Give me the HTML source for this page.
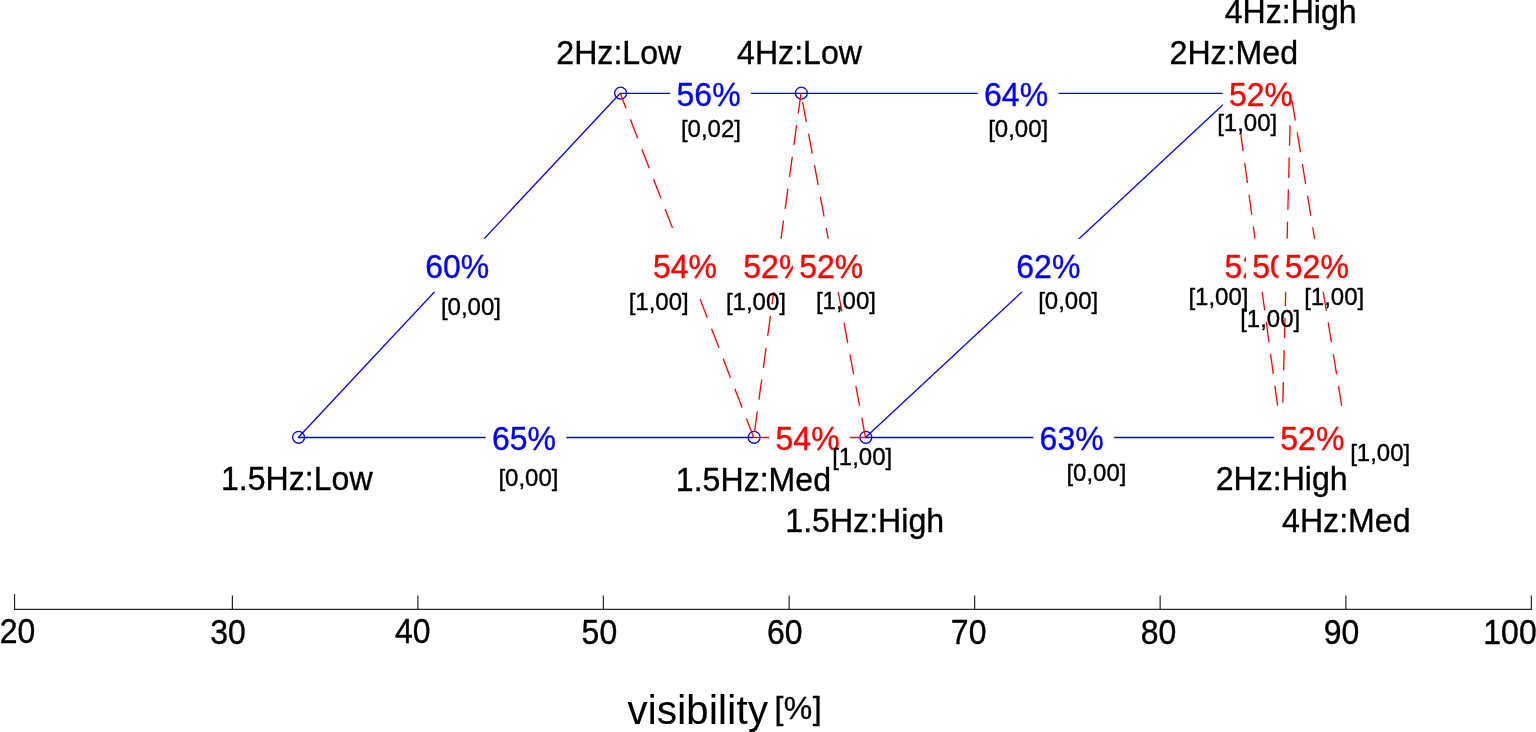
<!DOCTYPE html>
<html lang="en"><head><meta charset="utf-8"><title>visibility [%]</title>
<style>
html,body{margin:0;padding:0;background:#fff;}
body{width:1536px;height:732px;overflow:hidden;}
svg{display:block;font-family:"Liberation Sans",Arial,Helvetica,sans-serif;}
.ln{fill:none;stroke-width:1.3;stroke-linecap:butt;}
.b{stroke:#0000ff;}.r{stroke:#ff0000;stroke-dasharray:20.3 11.8;}
.bx{fill:#fff;stroke:none;}
text{stroke-width:0.35px;stroke-linejoin:round;}
.pc{font-size:32px;}
.sm{font-size:24px;fill:#000;stroke:#000;stroke-width:0.32px;}
.nd{font-size:32.1px;fill:#000;stroke:#000;text-anchor:middle;}
.tk{font-size:32px;fill:#000;stroke:#000;}
.ax{stroke:#262626;stroke-width:1.2;fill:none;}
.mk{fill:none;stroke:#0000ff;stroke-width:1.3;}
</style></head><body>
<svg width="1536" height="732" viewBox="0 0 1536 732" role="img" aria-label="visibility graph">
<rect x="0" y="0" width="1536" height="732" fill="#fff"/>
<g class="ax">
<path d="M13.95 609.4 H1532"/>
<path d="M14.55 609.4 V594"/>
<path d="M232.4 609.4 V595.6"/>
<path d="M417.9 609.4 V595.6"/>
<path d="M603.4 609.4 V595.6"/>
<path d="M789.15 609.4 V595.6"/>
<path d="M974.65 609.4 V595.6"/>
<path d="M1160.15 609.4 V595.6"/>
<path d="M1345.9 609.4 V595.6"/>
<path d="M1531.4 609.4 V595.6"/>
</g>
<g class="tk">
<text transform="translate(-0.2 643.2) scale(1 1.07)">20</text>
<text transform="translate(210.25 644.1) scale(1 1.07)">30</text>
<text transform="translate(394.9 643.2) scale(1 1.07)">40</text>
<text transform="translate(581.6 644.1) scale(1 1.07)">50</text>
<text transform="translate(767 644.1) scale(1 1.07)">60</text>
<text transform="translate(950.85 643.8) scale(1 1.07)">70</text>
<text transform="translate(1140.7 644.1) scale(1 1.07)">80</text>
<text transform="translate(1323.8 644.1) scale(1 1.07)">90</text>
<text transform="translate(1483.3 644.1) scale(1 1.07)">100</text>
</g>
<text x="627.4" y="723.6" font-size="40px" letter-spacing="0.3" fill="#000" stroke="#000" style="stroke-width:0.12px">visibility</text>
<text x="774.4" y="719.2" font-size="32px" letter-spacing="0.5" fill="#000" stroke="#000">[%]</text>
<g class="mk">
<circle cx="298.6" cy="437.3" r="5.95"/>
<circle cx="620.6" cy="93.1" r="5.95"/>
<circle cx="754.1" cy="437.3" r="5.95"/>
<circle cx="801.35" cy="93.1" r="5.95"/>
<circle cx="865.85" cy="437.3" r="5.95"/>
<circle cx="1235.65" cy="93.1" r="5.95"/>
<circle cx="1282.25" cy="437.3" r="5.95"/>
<circle cx="1291.25" cy="93.1" r="5.95"/>
<circle cx="1347.25" cy="437.3" r="5.95"/>
</g>
<g>
<path class="ln b" d="M620.25 93.3 L298.25 437.5"/>
<rect class="bx" x="418.88" y="238.8" width="80.75" height="53"/>
<text class="pc" transform="translate(425.18 278) scale(1 1.06)" fill="#0000ff" stroke="#0000ff">60%</text>
</g>
<g>
<path class="ln b" d="M753.75 437.5 L298.25 437.5"/>
<rect class="bx" x="485.62" y="410.9" width="80.75" height="53"/>
<text class="pc" transform="translate(491.93 450.1) scale(1 1.06)" fill="#0000ff" stroke="#0000ff">65%</text>
</g>
<g>
<path class="ln b" d="M801 93.3 L620.25 93.3"/>
<rect class="bx" x="670.25" y="66.7" width="80.75" height="53"/>
<text class="pc" transform="translate(676.55 105.9) scale(1 1.06)" fill="#0000ff" stroke="#0000ff">56%</text>
</g>
<g>
<path class="ln b" d="M1235.3 93.3 L801 93.3"/>
<rect class="bx" x="977.77" y="66.7" width="80.75" height="53"/>
<text class="pc" transform="translate(984.07 105.9) scale(1 1.06)" fill="#0000ff" stroke="#0000ff">64%</text>
</g>
<g>
<path class="ln b" d="M1235.3 93.3 L865.5 437.5"/>
<rect class="bx" x="1010.03" y="238.8" width="80.75" height="53"/>
<text class="pc" transform="translate(1016.33 278) scale(1 1.06)" fill="#0000ff" stroke="#0000ff">62%</text>
</g>
<g>
<path class="ln b" d="M1281.9 437.5 L865.5 437.5"/>
<rect class="bx" x="1033.33" y="410.9" width="80.75" height="53"/>
<text class="pc" transform="translate(1039.62 450.1) scale(1 1.06)" fill="#0000ff" stroke="#0000ff">63%</text>
</g>
<g>
<path class="ln r" d="M753.75 437.5 L620.25 93.3"/>
<rect class="bx" x="646.62" y="238.8" width="80.75" height="53"/>
<text class="pc" transform="translate(652.92 278) scale(1 1.06)" fill="#ff0000" stroke="#ff0000">54%</text>
</g>
<g>
<path class="ln r" d="M801 93.3 L753.75 437.5"/>
<rect class="bx" x="737" y="238.8" width="80.75" height="53"/>
<text class="pc" transform="translate(743.3 278) scale(1 1.06)" fill="#ff0000" stroke="#ff0000">52%</text>
</g>
<g>
<path class="ln r" d="M865.5 437.5 L753.75 437.5"/>
<rect class="bx" x="769.25" y="410.9" width="80.75" height="53"/>
<text class="pc" transform="translate(775.55 450.1) scale(1 1.06)" fill="#ff0000" stroke="#ff0000">54%</text>
</g>
<g>
<path class="ln r" d="M865.5 437.5 L801 93.3"/>
<rect class="bx" x="792.88" y="238.8" width="80.75" height="53"/>
<text class="pc" transform="translate(799.17 278) scale(1 1.06)" fill="#ff0000" stroke="#ff0000">52%</text>
</g>
<g>
<path class="ln r" d="M1281.9 437.5 L1235.3 93.3"/>
<rect class="bx" x="1218.22" y="238.8" width="80.75" height="53"/>
<text class="pc" transform="translate(1224.52 278) scale(1 1.06)" fill="#ff0000" stroke="#ff0000">52%</text>
</g>
<g>
<path class="ln r" d="M1290.9 93.3 L1281.9 437.5"/>
<rect class="bx" x="1246.03" y="238.8" width="80.75" height="53"/>
<text class="pc" transform="translate(1252.33 278) scale(1 1.06)" fill="#ff0000" stroke="#ff0000">50%</text>
</g>
<g>
<path class="ln r" d="M1290.9 93.3 L1235.3 93.3"/>
<rect class="bx" x="1222.72" y="66.7" width="80.75" height="53"/>
<text class="pc" transform="translate(1229.02 105.9) scale(1 1.06)" fill="#ff0000" stroke="#ff0000">52%</text>
</g>
<g>
<path class="ln r" d="M1346.9 437.5 L1290.9 93.3"/>
<rect class="bx" x="1278.53" y="238.8" width="80.75" height="53"/>
<text class="pc" transform="translate(1284.83 278) scale(1 1.06)" fill="#ff0000" stroke="#ff0000">52%</text>
</g>
<g>
<path class="ln r" d="M1346.9 437.5 L1281.9 437.5"/>
<rect class="bx" x="1274.03" y="410.9" width="80.75" height="53"/>
<text class="pc" transform="translate(1280.33 450.1) scale(1 1.06)" fill="#ff0000" stroke="#ff0000">52%</text>
</g>
<g class="sm">
<text x="440.9" y="314.5">[0,00]</text>
<text x="498.4" y="486.4">[0,00]</text>
<text x="680.9" y="137">[0,02]</text>
<text x="988.15" y="137">[0,00]</text>
<text x="1038.15" y="308.5">[0,00]</text>
<text x="1066.4" y="481">[0,00]</text>
<text x="628.65" y="310">[1,00]</text>
<text x="725.9" y="310">[1,00]</text>
<text x="832.15" y="464.7">[1,00]</text>
<text x="815.9" y="308.7">[1,00]</text>
<text x="1188.4" y="304.7">[1,00]</text>
<text x="1240.15" y="327">[1,00]</text>
<text x="1217.15" y="131.2">[1,00]</text>
<text x="1304.15" y="304.9">[1,00]</text>
<text x="1350.15" y="461.3">[1,00]</text>
</g>
<g class="nd">
<text transform="translate(296.75 490.2) scale(1 1.03)">1.5Hz:Low</text>
<text transform="translate(618.75 64.4) scale(1 1.03)">2Hz:Low</text>
<text transform="translate(753.45 490.7) scale(1 1.03)">1.5Hz:Med</text>
<text transform="translate(799.5 64.4) scale(1 1.03)">4Hz:Low</text>
<text transform="translate(864.7 532) scale(1 1.03)">1.5Hz:High</text>
<text transform="translate(1233.8 64.4) scale(1 1.03)">2Hz:Med</text>
<text transform="translate(1281.7 490.4) scale(1 1.03)">2Hz:High</text>
<text transform="translate(1290.7 22.5) scale(1 1.03)">4Hz:High</text>
<text transform="translate(1346.3 531.8) scale(1 1.03)">4Hz:Med</text>
</g>
</svg></body></html>
